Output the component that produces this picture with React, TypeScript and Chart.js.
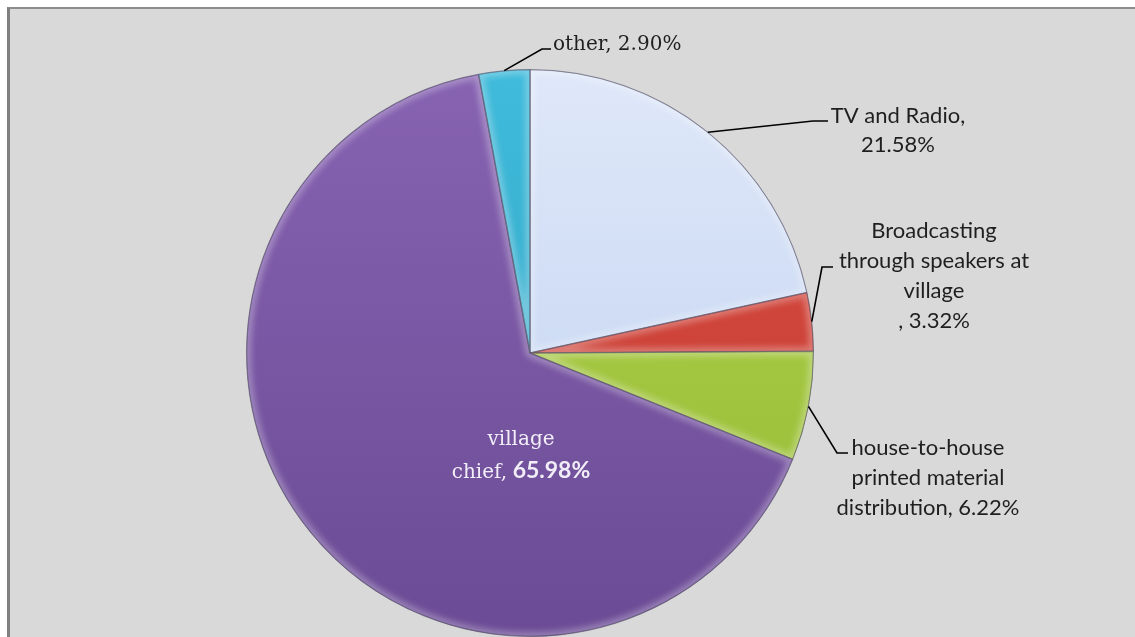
import React, { useEffect, useRef } from "react";
import { Chart, registerables } from "chart.js";

Chart.register(...registerables);

// ---- data ----
const categoryLines: string[][] = [
  ["TV and Radio"],
  ["Broadcasting", "through speakers at", "village"],
  ["house-to-house", "printed material", "distribution"],
  ["village", "chief"],
  ["other"],
];
const categories: string[] = categoryLines.map((l) => l.join(" "));
const values: number[] = [21.58, 3.32, 6.22, 65.98, 2.9];
const topColors: string[] = ["#dfe8f9", "#dc4d42", "#b2d34c", "#8763b2", "#40bbdb"];
const bottomColors: string[] = ["#bccfef", "#bf3a31", "#95ba36", "#6b4b95", "#2c9fbf"];

const pct = (v: number) => v.toFixed(2) + "%";

const SERIF = '"DejaVu Serif", serif';
const SANS = 'Lato, "Open Sans", sans-serif';

type LabelSpec = {
  elbow?: [number, number];
  end?: [number, number];
  cx: number;
  baselines: number[];
};

// layout of the labels (positions only)
const labelLayout: LabelSpec[] = [
  { elbow: [813, 121], end: [828, 121], cx: 898, baselines: [123, 152] },
  { elbow: [822, 267], end: [833, 267], cx: 934, baselines: [238, 268, 298, 328] },
  { elbow: [837, 453], end: [848, 453], cx: 928, baselines: [455, 485, 515] },
  { cx: 521, baselines: [445, 478] },
  { elbow: [542, 49], end: [551, 49], cx: 553, baselines: [50] },
];

const arcPath = (ctx: CanvasRenderingContext2D, p: any) => {
  ctx.beginPath();
  ctx.moveTo(p.x, p.y);
  ctx.arc(p.x, p.y, p.outerRadius, p.startAngle, p.endAngle);
  ctx.closePath();
};

const bevelPlugin = {
  id: "bevel",
  afterDatasetsDraw(chart: any) {
    const ctx: CanvasRenderingContext2D = chart.ctx;
    const meta = chart.getDatasetMeta(0);
    meta.data.forEach((arc: any) => {
      const p = arc.getProps(["x", "y", "startAngle", "endAngle", "outerRadius"], true);
      ctx.save();
      arcPath(ctx, p);
      ctx.clip();
      ctx.filter = "blur(3px)";
      arcPath(ctx, p);
      ctx.lineJoin = "round";
      ctx.strokeStyle = "rgba(255,255,255,0.30)";
      ctx.lineWidth = 9;
      ctx.stroke();
      ctx.filter = "none";
      arcPath(ctx, p);
      ctx.strokeStyle = "rgba(40,30,60,0.35)";
      ctx.lineWidth = 1.5;
      ctx.stroke();
      ctx.restore();
    });
  },
};

const labelPlugin = {
  id: "pieLabels",
  afterDatasetsDraw(chart: any) {
    const ctx: CanvasRenderingContext2D = chart.ctx;
    const meta = chart.getDatasetMeta(0);
    ctx.save();
    meta.data.forEach((arc: any, i: number) => {
      const p = arc.getProps(["x", "y", "startAngle", "endAngle", "outerRadius"], true);
      const mid = (p.startAngle + p.endAngle) / 2;
      const ax = p.x + Math.cos(mid) * p.outerRadius;
      const ay = p.y + Math.sin(mid) * p.outerRadius;
      const spec = labelLayout[i];
      if (spec.elbow && spec.end) {
        ctx.beginPath();
        ctx.strokeStyle = "#000000";
        ctx.lineWidth = 1.6;
        ctx.moveTo(ax, ay);
        ctx.lineTo(spec.elbow[0], spec.elbow[1]);
        ctx.lineTo(spec.end[0], spec.end[1]);
        ctx.stroke();
      }
      const lines = categoryLines[i];
      const v = pct(values[i]);
      ctx.textBaseline = "alphabetic";
      if (i === 0) {
        ctx.fillStyle = "#1f1f1f";
        ctx.font = `22px ${SANS}`;
        ctx.textAlign = "center";
        ctx.fillText(lines[0] + ",", spec.cx, spec.baselines[0]);
        ctx.fillText(v, spec.cx, spec.baselines[1]);
      } else if (i === 1) {
        ctx.fillStyle = "#1f1f1f";
        ctx.font = `22px ${SANS}`;
        ctx.textAlign = "center";
        lines.forEach((t, k) => ctx.fillText(t, spec.cx, spec.baselines[k]));
        ctx.fillText(", " + v, spec.cx, spec.baselines[3]);
      } else if (i === 2) {
        ctx.fillStyle = "#1f1f1f";
        ctx.font = `22px ${SANS}`;
        ctx.textAlign = "center";
        ctx.fillText(lines[0], spec.cx, spec.baselines[0]);
        ctx.fillText(lines[1], spec.cx, spec.baselines[1]);
        ctx.fillText(lines[2] + ", " + v, spec.cx, spec.baselines[2]);
      } else if (i === 3) {
        ctx.fillStyle = "#f2eef8";
        ctx.textAlign = "center";
        ctx.font = `20px ${SERIF}`;
        ctx.fillText(lines[0], spec.cx, spec.baselines[0]);
        const part1 = lines[1] + ",";
        const part2 = " " + v;
        const w1 = ctx.measureText(part1).width;
        ctx.font = `bold 23px ${SANS}`;
        const w2 = ctx.measureText(part2).width;
        const left = spec.cx - (w1 + w2) / 2;
        ctx.textAlign = "left";
        ctx.font = `20px ${SERIF}`;
        ctx.fillText(part1, left, spec.baselines[1]);
        ctx.font = `bold 23px ${SANS}`;
        ctx.fillText(part2, left + w1, spec.baselines[1]);
      } else {
        ctx.fillStyle = "#1f1f1f";
        ctx.font = `20px ${SERIF}`;
        ctx.textAlign = "left";
        ctx.fillText(lines[0] + ", " + v, spec.cx, spec.baselines[0]);
      }
    });
    ctx.restore();
  },
};

export default function App() {
  const canvasRef = useRef<HTMLCanvasElement | null>(null);

  useEffect(() => {
    document.body.style.margin = "0";
    const canvas = canvasRef.current;
    if (!canvas) return;
    const chart = new Chart(canvas, {
      type: "pie",
      data: {
        labels: categories,
        datasets: [
          {
            data: values,
            backgroundColor: (c: any) => {
              const i = c.dataIndex;
              const area = c.chart.chartArea;
              if (!area) return topColors[i];
              const g = c.chart.ctx.createLinearGradient(0, area.top, 0, area.bottom);
              g.addColorStop(0, topColors[i]);
              g.addColorStop(1, bottomColors[i]);
              return g;
            },
            borderColor: "rgba(70,70,90,0.55)",
            borderWidth: 1,
          },
        ],
      },
      options: {
        responsive: false,
        animation: false,
        layout: { padding: { left: 246, right: 321, top: 69, bottom: 0 } },
        plugins: {
          legend: { display: false },
          tooltip: { enabled: false },
        },
      },
      plugins: [bevelPlugin, labelPlugin],
    });
    return () => chart.destroy();
  }, []);

  return (
    <div style={{ position: "relative", width: 1135, height: 637, background: "#ffffff", overflow: "hidden" }}>
      <div
        style={{
          position: "absolute",
          left: 7,
          top: 7,
          right: 0,
          bottom: 0,
          background: "#d9d9d9",
          borderLeft: "3px solid #808080",
          borderTop: "2px solid #8c8c8c",
        }}
      />
      <canvas
        ref={canvasRef}
        width={1135}
        height={637}
        style={{ position: "absolute", left: 0, top: 0, width: 1135, height: 637 }}
      />
    </div>
  );
}
